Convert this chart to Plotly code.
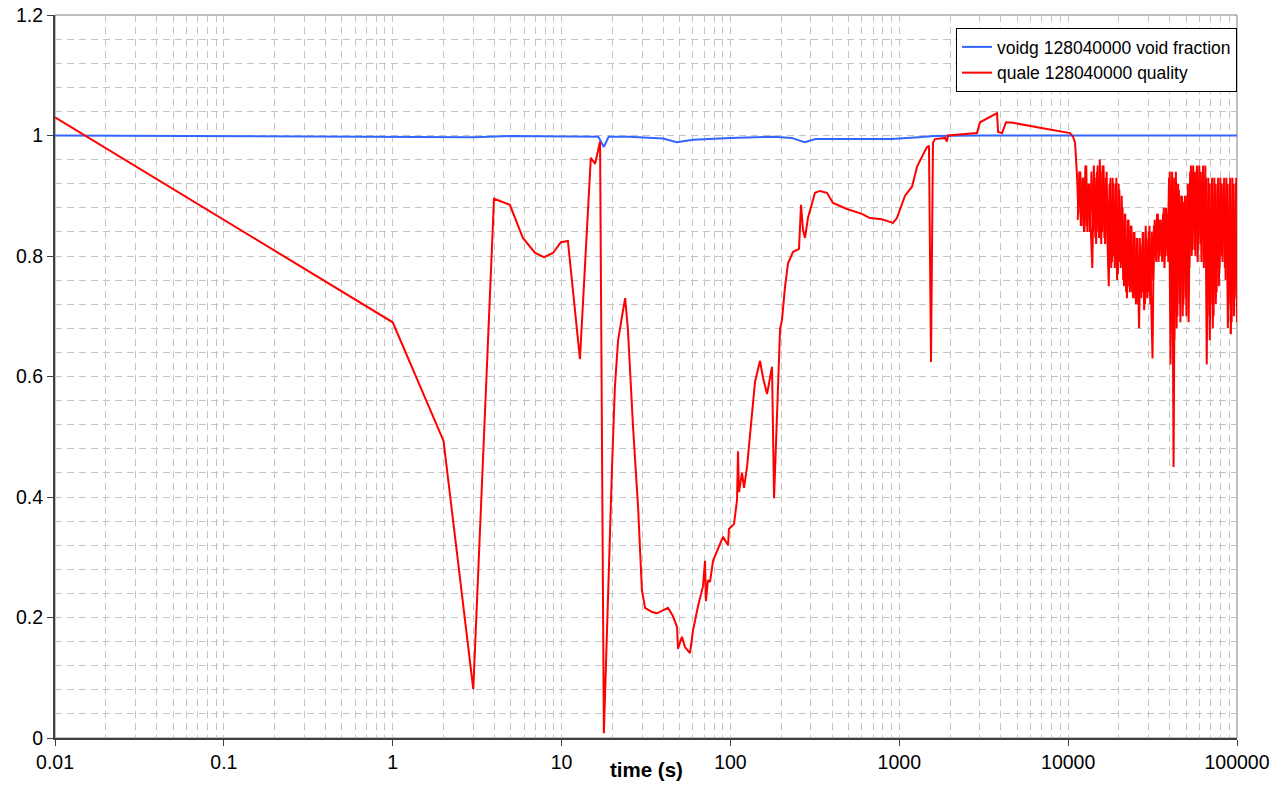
import plotly.graph_objects as go

# ---------------- data ----------------
# void fraction (voidg 128040000)
void_t = [0.01, 0.1, 1, 3, 5, 10, 16.5, 17.8, 19, 25, 40, 48, 52, 60, 100, 180,
          230, 275, 320, 500, 900, 1300, 1600, 3000, 10000, 100000]
void_v = [1.0, 0.999, 0.997, 0.997, 0.999, 0.999, 0.998, 0.981, 0.998, 0.998, 0.995,
          0.989, 0.99, 0.993, 0.996, 0.998, 0.996, 0.989, 0.994, 0.994, 0.994, 0.997,
          0.999, 1.0, 1.0, 1.0]

# quality (quale 128040000), smooth part
qual_t = [0.01, 1, 2, 3, 3.98, 4.94, 5.9, 6.97, 7.87, 8.9,
          9.9, 10.9, 12.85, 14.9, 15.8, 16.9, 17.8, 18.8, 19.9, 20.7,
          21.6, 22.8, 23.8, 24.7, 26.5, 28.4, 29.9, 31.2, 34.4, 36.7,
          42.7, 45.7, 48.3, 48.9, 51.6, 53.8, 57.6, 60.0, 64.3, 68.8,
          70.7, 71.6, 73.6, 75.7, 78.9, 84.4, 90.4, 96.8, 98.0, 105,
          109.4, 110.9, 112.4, 117.1, 120.4, 125.4, 134.3, 139.8, 149.7, 156,
          164.8, 176.3, 181.3, 188.6, 196.8, 202, 210.6, 219.4, 235, 254.7,
          261.8, 269, 276.6, 287.7, 316.7, 339, 373, 405, 490, 601,
          670, 789, 857, 918, 968, 1052, 1081, 1190, 1273, 1363,
          1459, 1499, 1541, 1583, 1627, 1866, 1916, 1942, 2884, 3006,
          3793, 3847, 4058, 4285, 4713, 6810, 10260, 10690, 10990]
qual_v = [1.03, 0.69, 0.493, 0.081, 0.895, 0.885, 0.83, 0.805, 0.798, 0.805,
          0.823, 0.825, 0.629, 0.963, 0.953, 0.99, 0.008, 0.245, 0.45, 0.584,
          0.659, 0.70, 0.73, 0.679, 0.516, 0.382, 0.246, 0.216, 0.209, 0.207,
          0.216, 0.202, 0.184, 0.148, 0.168, 0.151, 0.141, 0.178, 0.219, 0.252,
          0.294, 0.227, 0.262, 0.259, 0.294, 0.314, 0.334, 0.32, 0.347, 0.355,
          0.395, 0.476, 0.408, 0.44, 0.415, 0.45, 0.538, 0.591, 0.626, 0.598,
          0.571, 0.616, 0.398, 0.528, 0.679, 0.694, 0.749, 0.788, 0.807, 0.812,
          0.885, 0.843, 0.83, 0.863, 0.905, 0.908, 0.905, 0.888, 0.878, 0.87,
          0.863, 0.861, 0.857, 0.855, 0.863, 0.893, 0.90, 0.915, 0.948, 0.965,
          0.981, 0.983, 0.624, 0.988, 0.994, 0.996, 0.99, 1.0, 1.004, 1.022,
          1.037, 1.006, 1.004, 1.022, 1.021, 1.013, 1.004, 0.998, 0.988]

# quality, oscillating late part (read as peaks / troughs)
osc_t = [11300, 11500, 11800, 12000, 12300, 12500, 12800, 13000, 13300, 13600,
         13900, 14200, 14500, 14800, 15100, 15400, 15700, 16000, 16400, 16700,
         17100, 17400, 17800, 18200, 18500, 18900, 19300, 19700, 20100, 20500,
         21000, 21400, 21800, 22300, 22800, 23200, 23700, 24200, 24700, 25200,
         25700, 26300, 26800, 27400, 27900, 28500, 29100, 29700, 30300, 31000,
         31600, 32200, 32900, 33600, 34300, 35000, 35700, 36500, 37200, 38000,
         38800, 39600, 40400, 41300, 42100, 43000, 43900, 44800, 45700, 46700,
         47700, 48600, 49700, 50700, 51700, 52800, 53900, 55000, 56200, 57300,
         58500, 59800, 61000, 62300, 63600, 64900, 66200, 67600, 69000, 70500,
         71900, 73400, 74900, 76500, 78100, 79700, 81300, 83000, 84800, 86500,
         88300, 90200, 92000, 93900, 95900, 97900, 100000]
osc_v = [0.93, 0.87, 0.94, 0.85, 0.93, 0.84, 0.95, 0.84, 0.92, 0.86,
         0.78, 0.95, 0.83, 0.94, 0.84, 0.96, 0.82, 0.95, 0.83, 0.93,
         0.83, 0.75, 0.93, 0.79, 0.92, 0.78, 0.93, 0.77, 0.91, 0.78,
         0.88, 0.75, 0.87, 0.73, 0.86, 0.74, 0.85, 0.73, 0.84, 0.72,
         0.83, 0.68, 0.82, 0.74, 0.84, 0.72, 0.83, 0.74, 0.85, 0.73,
         0.63, 0.85, 0.80, 0.87, 0.79, 0.86, 0.80, 0.87, 0.78, 0.88,
         0.80, 0.93, 0.62, 0.94, 0.45, 0.93, 0.68, 0.92, 0.72, 0.90,
         0.70, 0.89, 0.73, 0.90, 0.69, 0.94, 0.80, 0.95, 0.81, 0.94,
         0.79, 0.95, 0.82, 0.94, 0.78, 0.95, 0.62, 0.93, 0.66, 0.92,
         0.68, 0.93, 0.72, 0.92, 0.75, 0.93, 0.80, 0.92, 0.78, 0.93,
         0.68, 0.92, 0.67, 0.93, 0.70, 0.92, 0.69]

# second pass of the same oscillation (samples between the ones above)
osc2_t = [11400, 11650, 11900, 12150, 12400, 12650, 12900, 13150, 13450, 13750,
          14050, 14350, 14650, 14950, 15250, 15550, 15850, 16200, 16550, 16900,
          17250, 17600, 18000, 18350, 18700, 19100, 19500, 19900, 20300, 20750,
          21200, 21600, 22050, 22550, 23000, 23450, 23950, 24450, 24950, 25450,
          26000, 26550, 27100, 27650, 28200, 28800, 29400, 30000, 30650, 31300,
          31900, 32550, 33250, 33950, 34650, 35350, 36100, 36850, 37600, 38400,
          39200, 40000, 40850, 41700, 42550, 43450, 44350, 45250, 46200, 47200,
          48150, 49150, 50200, 51200, 52250, 53350, 54450, 55600, 56750, 57900,
          59150, 60400, 61650, 62950, 64250, 65550, 66900, 68300, 69750, 71200,
          72650, 74150, 75700, 77300, 78900, 80500, 82150, 83900, 85650, 87400,
          89250, 91100, 92950, 94900, 96900, 98950]
osc2_v = [0.86, 0.94, 0.85, 0.93, 0.84, 0.95, 0.85, 0.92, 0.84, 0.94,
          0.84, 0.93, 0.82, 0.95, 0.83, 0.94, 0.84, 0.95, 0.82, 0.94,
          0.80, 0.92, 0.78, 0.93, 0.80, 0.92, 0.76, 0.92, 0.79, 0.90,
          0.76, 0.87, 0.74, 0.86, 0.75, 0.85, 0.74, 0.84, 0.73, 0.83,
          0.72, 0.83, 0.73, 0.84, 0.71, 0.85, 0.73, 0.84, 0.72, 0.84,
          0.76, 0.86, 0.79, 0.87, 0.80, 0.86, 0.79, 0.88, 0.80, 0.87,
          0.79, 0.94, 0.70, 0.93, 0.66, 0.94, 0.70, 0.91, 0.69, 0.90,
          0.72, 0.90, 0.70, 0.92, 0.78, 0.95, 0.81, 0.94, 0.80, 0.95,
          0.82, 0.94, 0.79, 0.95, 0.80, 0.93, 0.70, 0.92, 0.72, 0.93,
          0.70, 0.92, 0.74, 0.93, 0.78, 0.92, 0.79, 0.93, 0.76, 0.92,
          0.72, 0.93, 0.69, 0.92, 0.73, 0.93]

x_ticks = [0.01, 0.1, 1, 10, 100, 1000, 10000, 100000]
x_tick_labels = ["0.01", "0.1", "1", "10", "100", "1000", "10000", "100000"]
y_ticks = [0, 0.2, 0.4, 0.6, 0.8, 1.0, 1.2]
y_tick_labels = ["0", "0.2", "0.4", "0.6", "0.8", "1", "1.2"]

# ---------------- figure ----------------
FONT = "Liberation Sans, Arial, sans-serif"
GRID = "#c4c4c4"
DASH = "7px,5px"
RED = "#ff0000"
BLUE = "#3366ff"

fig = go.Figure()
fig.add_trace(go.Scatter(
    x=void_t, y=void_v, mode="lines", name="voidg 128040000 void fraction",
    line=dict(color=BLUE, width=2), hoverinfo="skip"))
fig.add_trace(go.Scatter(
    x=qual_t + osc_t, y=qual_v + osc_v, mode="lines",
    name="quale 128040000 quality", legendgroup="q",
    line=dict(color=RED, width=2), hoverinfo="skip"))
fig.add_trace(go.Scatter(
    x=osc2_t, y=osc2_v, mode="lines", showlegend=False, legendgroup="q",
    line=dict(color=RED, width=2), hoverinfo="skip"))

fig.update_layout(
    width=1287, height=785,
    margin=dict(l=55, r=50, t=15, b=47),
    paper_bgcolor="white", plot_bgcolor="white",
    font=dict(family=FONT, size=19.5, color="black"),
    showlegend=True,
    legend=dict(x=1, y=0.982, xanchor="right", yanchor="top",
                bgcolor="white", bordercolor="black", borderwidth=1,
                font=dict(family=FONT, size=17.5, color="black"),
                tracegroupgap=0, itemwidth=30),
    xaxis=dict(
        type="log", range=[-2, 5],
        tickvals=x_ticks, ticktext=x_tick_labels,
        ticks="outside", ticklen=6, tickcolor="#404040", tickwidth=1,
        showline=True, linecolor="#404040", linewidth=2,
        showgrid=True, gridcolor=GRID, griddash=DASH, gridwidth=1,
        minor=dict(dtick="D1", showgrid=True, gridcolor=GRID,
                   griddash=DASH, gridwidth=1, ticks=""),
        zeroline=False, tickfont=dict(size=19.5), automargin=False,
        ticklabeloverflow="allow",
    ),
    yaxis=dict(
        range=[0, 1.2],
        tickvals=y_ticks, ticktext=y_tick_labels,
        ticks="outside", ticklen=6, tickcolor="#404040", tickwidth=1,
        showline=True, linecolor="#404040", linewidth=2,
        showgrid=True, gridcolor=GRID, griddash=DASH, gridwidth=1,
        minor=dict(dtick=0.04, showgrid=True, gridcolor=GRID,
                   griddash=DASH, gridwidth=1, ticks=""),
        zeroline=False, tickfont=dict(size=19.5), automargin=False,
        ticklabeloverflow="allow",
    ),
    shapes=[dict(type="rect", xref="paper", yref="paper", x0=0, x1=1, y0=0, y1=1,
                 line=dict(color="#808080", width=1), layer="below")],
    annotations=[dict(text="<b>time (s)</b>", xref="paper", yref="paper",
                      x=0.5, y=-0.044, xanchor="center", yanchor="middle",
                      showarrow=False, font=dict(family=FONT, size=20.5, color="black"))],
)

fig.write_html(
    "out.html",
    config={"displayModeBar": False},
    post_script="document.body.style.margin='0';document.body.style.overflow='hidden';",
)
